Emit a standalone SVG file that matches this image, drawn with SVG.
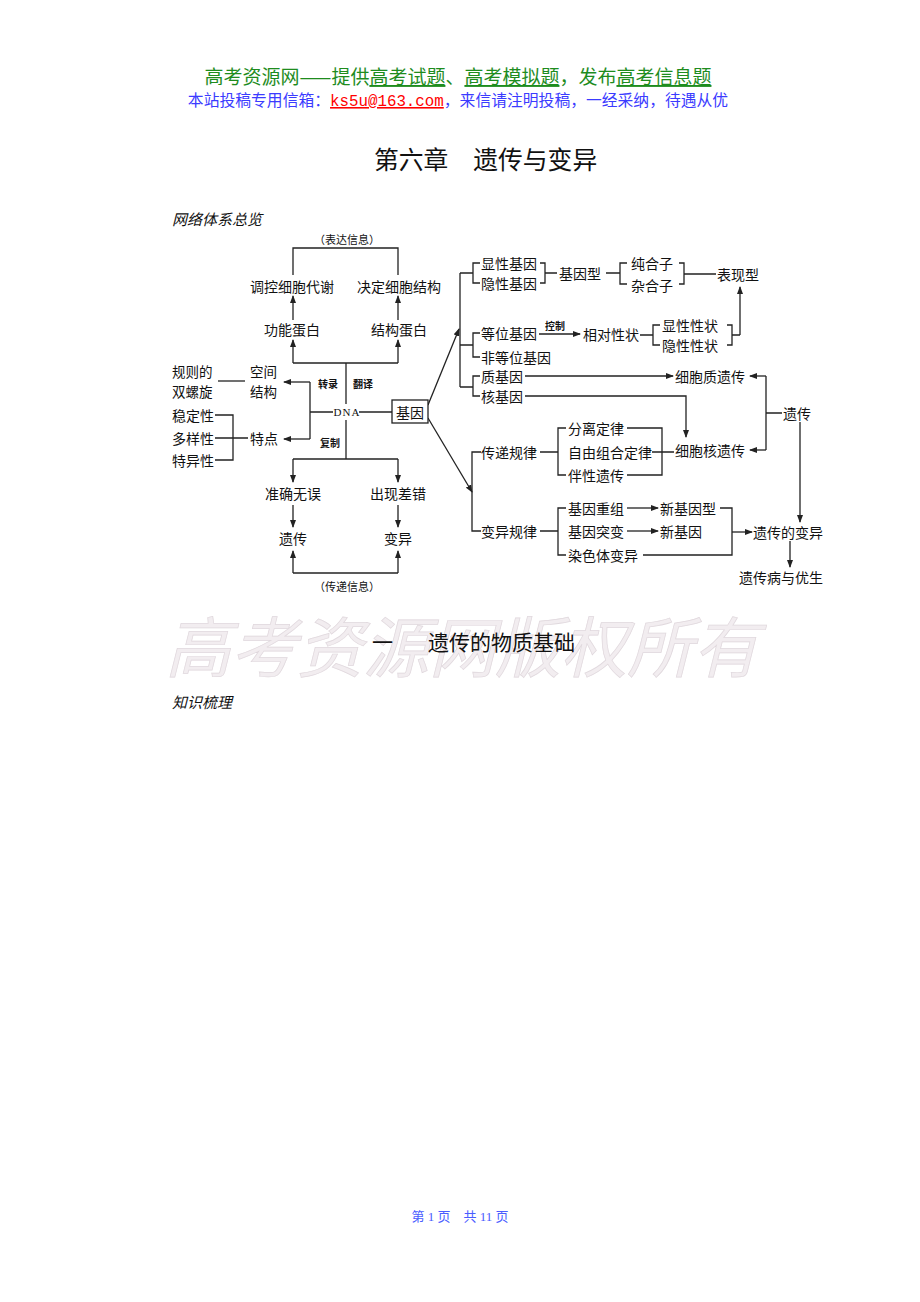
<svg xmlns="http://www.w3.org/2000/svg" width="920" height="1302" viewBox="0 0 920 1302">
<style>
text{font-family:"Noto Sans CJK SC","Noto Sans",sans-serif;fill:#111;}
.t{font-size:14px;dominant-baseline:central;}
.t2{font-size:13.5px;dominant-baseline:central;}
.m{text-anchor:middle;}
.s{font-size:10px;font-weight:bold;dominant-baseline:central;}
.sm{font-size:11px;dominant-baseline:central;text-anchor:middle;}
.ln{fill:none;stroke:#222;stroke-width:1.3;}
.ar{fill:none;stroke:#222;stroke-width:1.3;marker-end:url(#ah);}
.it{font-style:italic;font-size:15px;}
</style>
<defs>
<marker id="ah" markerWidth="8" markerHeight="6" refX="7" refY="3" orient="auto" markerUnits="userSpaceOnUse">
<path d="M0,0 L8,3 L0,6 Z" fill="#222"/>
</marker>
</defs>
<rect width="920" height="1302" fill="#fff"/>
<g id="header">
<text x="458" y="84" text-anchor="middle" font-size="19" style="fill:#1e8c1e">高考资源网——提供<tspan text-decoration="underline">高考试题</tspan>、<tspan text-decoration="underline">高考模拟题</tspan>，发布<tspan text-decoration="underline">高考信息题</tspan></text>
<text x="458" y="106" text-anchor="middle" font-size="15.8" style="fill:#3b3bff">本站投稿专用信箱：<tspan style="fill:#ff0000;font-family:'Liberation Mono',monospace" text-decoration="underline">ks5u@163.com</tspan>，来信请注明投稿，一经采纳，待遇从优</text>
<text x="374" y="169" font-size="24.8">第六章　遗传与变异</text>
<text x="172" y="225" class="it">网络体系总览</text>
</g>
<g id="connectors">
<path class="ln" d="M293,275 V248 H398 V275"/>
<line class="ar" x1="293" y1="320" x2="293" y2="296"/>
<line class="ar" x1="398" y1="320" x2="398" y2="296"/>
<path class="ln" d="M293,363 H398"/>
<line class="ar" x1="293" y1="363" x2="293" y2="340"/>
<line class="ar" x1="398" y1="363" x2="398" y2="340"/>
<line class="ln" x1="346" y1="363" x2="346" y2="404"/>
<line class="ln" x1="346" y1="420" x2="346" y2="459"/>
<path class="ln" d="M293,459 H398"/>
<line class="ar" x1="293" y1="459" x2="293" y2="482"/>
<line class="ar" x1="398" y1="459" x2="398" y2="482"/>
<line class="ar" x1="293" y1="505" x2="293" y2="527"/>
<line class="ar" x1="398" y1="505" x2="398" y2="527"/>
<path class="ln" d="M293,573 H398"/>
<line class="ar" x1="293" y1="573" x2="293" y2="551"/>
<line class="ar" x1="398" y1="573" x2="398" y2="551"/>
<path class="ln" d="M333,412 H310 M310,382 V439"/>
<line class="ar" x1="310" y1="382" x2="284" y2="382"/>
<line class="ar" x1="310" y1="439" x2="284" y2="439"/>
<line class="ln" x1="218" y1="381" x2="245" y2="381"/>
<path class="ln" d="M215,415 H233 V460 H215 M215,438 H248"/>
<line class="ln" x1="359" y1="412" x2="392" y2="412"/>
<line class="ar" x1="428" y1="405" x2="459" y2="329"/>
<line class="ar" x1="428" y1="418" x2="472" y2="492"/>
<path class="ln" d="M460,273 V387"/>
<path class="ln" d="M480,263 H473 V283 H480 M460,273 H473"/>
<path class="ln" d="M480,333 H473 V357 H480 M460,345 H473"/>
<path class="ln" d="M480,376 H473 V396 H480 M460,387 H473"/>
<path class="ln" d="M540,263 H545 V283 H540 M545,273 H557"/>
<path class="ln" d="M606,273 H620 M627,263 H620 V284 H627"/>
<path class="ln" d="M679,263 H684 V284 H679 M684,274 H716"/>
<line class="ar" x1="539" y1="334" x2="580" y2="334"/>
<path class="ln" d="M640,335 H653 M660,325 H653 V345 H660"/>
<path class="ln" d="M727,325 H732 V345 H727 M732,335 H740"/>
<line class="ar" x1="740" y1="335" x2="740" y2="287"/>
<line class="ar" x1="525" y1="376" x2="673" y2="376"/>
<path class="ln" d="M766,376 V450 M766,413 H782"/>
<line class="ar" x1="766" y1="376" x2="750" y2="376"/>
<line class="ar" x1="766" y1="450" x2="750" y2="450"/>
<path class="ln" d="M525,396 H686 V410"/>
<line class="ar" x1="686" y1="410" x2="686" y2="437"/>
<path class="ln" d="M481,452 H472 V531 H481"/>
<path class="ln" d="M540,452 H558 M566,428 H558 V475 H566"/>
<path class="ln" d="M627,428 H662 V475 H627 M652,452 H674"/>
<path class="ln" d="M540,531 H558 M566,508 H558 V555 H566"/>
<line class="ar" x1="627" y1="508" x2="658" y2="508"/>
<line class="ar" x1="627" y1="531" x2="658" y2="531"/>
<path class="ln" d="M720,508 H732 V555 H643"/>
<line class="ar" x1="732" y1="532" x2="752" y2="532"/>
<line class="ar" x1="800" y1="422" x2="800" y2="522"/>
<line class="ar" x1="790" y1="541" x2="790" y2="567"/>
</g>
<g id="n-biaoda"><text class="sm" x="347" y="239">（表达信息）</text></g>
<g id="n-tiaokong"><text class="t m" x="292" y="286">调控细胞代谢</text></g>
<g id="n-jueding"><text class="t m" x="399" y="286">决定细胞结构</text></g>
<g id="n-gongneng"><text class="t m" x="292" y="329">功能蛋白</text></g>
<g id="n-jiegou"><text class="t m" x="399" y="329">结构蛋白</text></g>
<g id="n-zhuanlu"><text class="s" x="318" y="383">转录</text><text class="s" x="353" y="383">翻译</text></g>
<g id="n-guize"><text class="t2" x="172" y="371">规则的</text><text class="t2" x="172" y="391">双螺旋</text></g>
<g id="n-kongjian"><text class="t2" x="250" y="371">空间</text><text class="t2" x="250" y="391">结构</text></g>
<g id="n-dna"><text x="347" y="412" font-size="11" text-anchor="middle" dominant-baseline="central" style="font-family:'Liberation Serif',serif" letter-spacing="1">DNA</text></g>
<g id="n-jiyin"><rect x="392" y="400" width="36" height="23" fill="#fff" stroke="#222" stroke-width="1.3"/><text class="t m" x="410" y="411.5">基因</text></g>
<g id="n-wending"><text class="t" x="172" y="415">稳定性</text></g>
<g id="n-duoyang"><text class="t" x="172" y="438">多样性</text></g>
<g id="n-teyi"><text class="t" x="172" y="460">特异性</text></g>
<g id="n-tedian"><text class="t" x="250" y="438">特点</text></g>
<g id="n-fuzhi"><text class="s" x="320" y="442">复制</text></g>
<g id="n-zhunque"><text class="t m" x="293" y="493">准确无误</text></g>
<g id="n-chuxian"><text class="t m" x="398" y="493">出现差错</text></g>
<g id="n-yichuan1"><text class="t m" x="293" y="538">遗传</text></g>
<g id="n-bianyi1"><text class="t m" x="398" y="538">变异</text></g>
<g id="n-chuandi"><text class="sm" x="347" y="586">（传递信息）</text></g>
<g id="n-xianxing"><text class="t" x="481" y="263">显性基因</text></g>
<g id="n-yinxing"><text class="t" x="481" y="283">隐性基因</text></g>
<g id="n-jiyinxing"><text class="t" x="559" y="273">基因型</text></g>
<g id="n-chunhe"><text class="t" x="631" y="263">纯合子</text></g>
<g id="n-zahe"><text class="t" x="631" y="285">杂合子</text></g>
<g id="n-biaoxian"><text class="t" x="717" y="274">表现型</text></g>
<g id="n-dengwei"><text class="t" x="481" y="333">等位基因</text></g>
<g id="n-feidengwei"><text class="t" x="481" y="357">非等位基因</text></g>
<g id="n-kongzhi"><text class="s" x="545" y="325">控制</text></g>
<g id="n-xiangdui"><text class="t" x="583" y="334">相对性状</text></g>
<g id="n-xianxingxz"><text class="t" x="662" y="325">显性性状</text></g>
<g id="n-yinxingxz"><text class="t" x="662" y="345">隐性性状</text></g>
<g id="n-zhi"><text class="t" x="481" y="376">质基因</text></g>
<g id="n-he"><text class="t" x="481" y="396">核基因</text></g>
<g id="n-xibaozhi"><text class="t" x="675" y="376">细胞质遗传</text></g>
<g id="n-yichuan2"><text class="t" x="783" y="413">遗传</text></g>
<g id="n-xibaohe"><text class="t" x="675" y="450">细胞核遗传</text></g>
<g id="n-chuandiguilv"><text class="t" x="481" y="452">传递规律</text></g>
<g id="n-bianyiguilv"><text class="t" x="481" y="531">变异规律</text></g>
<g id="n-fenli"><text class="t" x="568" y="428">分离定律</text></g>
<g id="n-ziyou"><text class="t" x="568" y="452">自由组合定律</text></g>
<g id="n-banxing"><text class="t" x="568" y="475">伴性遗传</text></g>
<g id="n-chongzu"><text class="t" x="568" y="508">基因重组</text></g>
<g id="n-tubian"><text class="t" x="568" y="531">基因突变</text></g>
<g id="n-ranse"><text class="t" x="568" y="555">染色体变异</text></g>
<g id="n-xinjiyinxing"><text class="t" x="660" y="508">新基因型</text></g>
<g id="n-xinjiyin"><text class="t" x="660" y="531">新基因</text></g>
<g id="n-yichuandebianyi"><text class="t" x="753" y="532">遗传的变异</text></g>
<g id="n-yichuanbing"><text class="t" x="739" y="577">遗传病与优生</text></g>
<g id="body">
<text x="165" y="672" font-size="66" style="fill:#f2edf0;stroke:#e0d8dd;stroke-width:0.7" font-style="italic">高考资源网版权所有</text>
<text x="372" y="650" font-size="21">一</text>
<text x="428" y="650" font-size="21">遗传的物质基础</text>
<text x="172" y="708" class="it">知识梳理</text>
<text x="460" y="1221" text-anchor="middle" font-size="13" style="fill:#4a5cff;font-family:'Liberation Serif','Noto Sans CJK SC',serif">第 1 页　共 11 页</text>
</g>
</svg>
